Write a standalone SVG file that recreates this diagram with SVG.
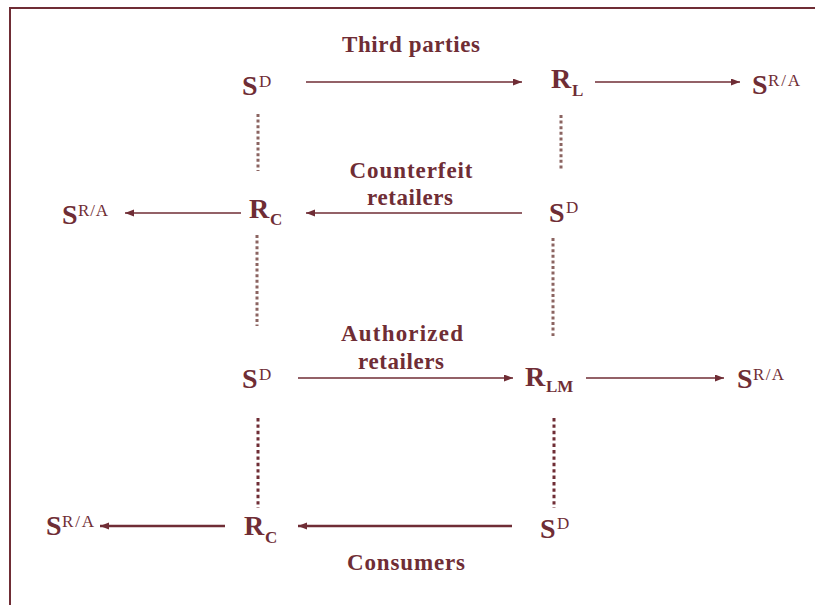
<svg xmlns="http://www.w3.org/2000/svg" width="815" height="605" viewBox="0 0 815 605">
  <style>
    .lbl { font-family: "Liberation Serif", serif; font-weight: bold; font-size: 23px; fill: #6f2d35; }
    .sym { font-family: "Liberation Serif", serif; font-weight: bold; font-size: 28px; fill: #6f2d35; }
    .sup { font-family: "Liberation Serif", serif; font-size: 17px; fill: #6f2d35; }
    .sub { font-family: "Liberation Serif", serif; font-weight: bold; font-size: 17px; fill: #6f2d35; }
    .arr { stroke: #6f2d35; stroke-width: 1.6; fill: none; marker-end: url(#ah); }
    .arr.thick { stroke-width: 2.6; }
    .dotA { stroke: #8b6461; stroke-width: 3; stroke-dasharray: 3 2.6; }
    .dotB { stroke: #6f2d35; stroke-width: 3; stroke-dasharray: 3.4 3; }
  </style>
  <defs>
    <marker id="ah" markerUnits="userSpaceOnUse" markerWidth="10" markerHeight="8" refX="9" refY="3.5" orient="auto">
      <path d="M0,0 L9,3.5 L0,7 z" fill="#6f2d35"/>
    </marker>
  </defs>
  <rect width="815" height="605" fill="#ffffff"/>
  <!-- frame -->
  <path d="M10,605 V8 H815" fill="none" stroke="#6f2d35" stroke-width="2"/>

  <!-- flow labels -->
  <text class="lbl" x="411" y="52" text-anchor="middle" textLength="138">Third parties</text>
  <text class="lbl" x="411" y="178" text-anchor="middle" textLength="123">Counterfeit</text>
  <text class="lbl" x="410" y="205" text-anchor="middle" textLength="86">retailers</text>
  <text class="lbl" x="402" y="341" text-anchor="middle" textLength="122">Authorized</text>
  <text class="lbl" x="401" y="369" text-anchor="middle" textLength="86">retailers</text>
  <text class="lbl" x="406" y="570" text-anchor="middle" textLength="118">Consumers</text>

  <!-- row 1 -->
  <g id="sd1"><text class="sym" x="242" y="95">S</text><text class="sup" x="259" y="87">D</text></g>
  <g id="rl"><text class="sym" x="551" y="88">R</text><text class="sub" x="572" y="96">L</text></g>
  <g id="sra1"><text class="sym" x="752" y="94">S</text><text class="sup" x="768" y="86" textLength="32">R/A</text></g>

  <!-- row 2 -->
  <g id="sra2"><text class="sym" x="62" y="224">S</text><text class="sup" x="78" y="216" textLength="30">R/A</text></g>
  <g id="rc1"><text class="sym" x="249" y="218">R</text><text class="sub" x="270" y="225">C</text></g>
  <g id="sd2"><text class="sym" x="549" y="222">S</text><text class="sup" x="566" y="213">D</text></g>

  <!-- row 3 -->
  <g id="sd3"><text class="sym" x="242" y="388">S</text><text class="sup" x="259" y="380">D</text></g>
  <g id="rlm"><text class="sym" x="525" y="386">R</text><text class="sub" x="546" y="392">LM</text></g>
  <g id="sra3"><text class="sym" x="737" y="388">S</text><text class="sup" x="753" y="380" textLength="31">R/A</text></g>

  <!-- row 4 -->
  <g id="sra4"><text class="sym" x="46" y="535">S</text><text class="sup" x="62" y="527" textLength="32">R/A</text></g>
  <g id="rc2"><text class="sym" x="244" y="535">R</text><text class="sub" x="265" y="543">C</text></g>
  <g id="sd4"><text class="sym" x="540" y="538">S</text><text class="sup" x="557" y="529">D</text></g>

  <g id="connectors">
    <!-- arrows -->
    <line class="arr" x1="306" y1="82" x2="522" y2="82"/>
    <line class="arr" x1="595" y1="82" x2="740" y2="82"/>
    <line class="arr" x1="241" y1="213" x2="125" y2="213"/>
    <line class="arr" x1="522" y1="213" x2="306" y2="213"/>
    <line class="arr" x1="298" y1="378" x2="513" y2="378"/>
    <line class="arr" x1="586" y1="378" x2="724" y2="378"/>
    <line class="arr thick" x1="225" y1="526" x2="100" y2="526"/>
    <line class="arr thick" x1="512" y1="526" x2="298" y2="526"/>
    <!-- dotted links -->
    <line class="dotA" x1="258" y1="114" x2="258" y2="171"/>
    <line class="dotA" x1="561" y1="115" x2="561" y2="170"/>
    <line class="dotA" x1="257" y1="235" x2="257" y2="326"/>
    <line class="dotA" x1="553" y1="238" x2="553" y2="336"/>
    <line class="dotB" x1="258" y1="418" x2="258" y2="508"/>
    <line class="dotB" x1="554" y1="418" x2="554" y2="508"/>
  </g>
</svg>
